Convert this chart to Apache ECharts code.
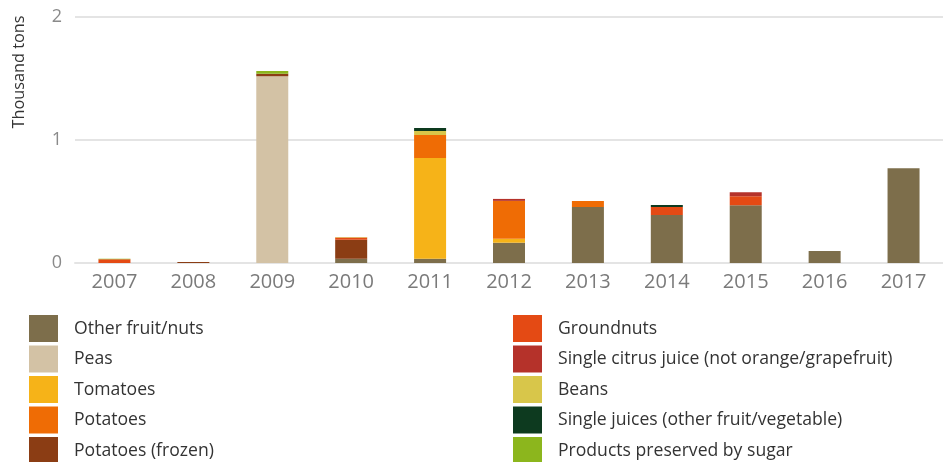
<!DOCTYPE html>
<html>
<head>
<meta charset="utf-8">
<script src="https://cdn.jsdelivr.net/npm/echarts@6/dist/echarts.min.js"></script>
<style>html,body{margin:0;padding:0;background:#fff;}#c{width:943px;height:462px;}</style>
</head>
<body>
<div id="c"></div>
<script>
var years = ['2007','2008','2009','2010','2011','2012','2013','2014','2015','2016','2017'];
var seriesNames = ['Other fruit/nuts','Peas','Tomatoes','Potatoes','Potatoes (frozen)','Groundnuts','Single citrus juice (not orange/grapefruit)','Beans','Single juices (other fruit/vegetable)','Products preserved by sugar'];
var colors = ['#7d6e4b','#d3c2a5','#f6b318','#ef6c05','#8b3d14','#e44a14','#b5322a','#d8c64a','#0d3a1f','#8cb61d'];
var otherFruitNuts   = [0, 0, 0, 0.035, 0.035, 0.165, 0.455, 0.39, 0.47, 0.097, 0.77];
var peas             = [0, 0, 1.519, 0, 0, 0, 0, 0, 0, 0, 0];
var tomatoes         = [0, 0, 0, 0, 0.819, 0.032, 0, 0, 0, 0, 0];
var potatoes         = [0, 0, 0, 0, 0.187, 0.308, 0.049, 0, 0, 0, 0];
var potatoesFrozen   = [0, 0.008, 0.019, 0.154, 0, 0, 0, 0, 0, 0, 0];
var groundnuts       = [0.03, 0, 0, 0.018, 0, 0, 0, 0.065, 0.073, 0, 0];
var citrusJuice      = [0, 0, 0, 0, 0, 0.016, 0, 0, 0.032, 0, 0];
var beans            = [0, 0, 0, 0.005, 0.032, 0, 0, 0, 0, 0, 0];
var singleJuices     = [0, 0, 0, 0, 0.024, 0, 0, 0.016, 0, 0, 0];
var preservedSugar   = [0.005, 0, 0.022, 0, 0, 0, 0, 0, 0, 0, 0];
var yTicks = ['0','1','2'];
var allData = [otherFruitNuts, peas, tomatoes, potatoes, potatoesFrozen, groundnuts, citrusJuice, beans, singleJuices, preservedSugar];

var chart = echarts.init(document.getElementById('c'), null, {renderer:'canvas'});
var series = seriesNames.map(function(n, i){
  return {name: n, type: 'bar', stack: 'total', barWidth: 32, data: allData[i],
    itemStyle: {color: colors[i]}, emphasis: {disabled: true}};
});
var legendText = {fontFamily: 'Open Sans', fontSize: 17.6, color: '#333', padding: [0,0,0,11]};
chart.setOption({
  animation: false,
  color: colors,
  grid: {left: 75, top: 17, width: 871, height: 246, containLabel: false},
  graphic: [{type: 'text', rotation: Math.PI/2, x: 19, y: 72,
    style: {text: 'Thousand tons', fontFamily: 'Open Sans', fontSize: 16.3, fill: '#333', textAlign: 'center', textVerticalAlign: 'middle'}}],
  legend: [
    {data: seriesNames.slice(0,5), orient: 'vertical', left: 29, top: 315, height: 160, padding: 0, itemWidth: 29, itemHeight: 27, itemGap: 3.5, icon: 'rect', textStyle: legendText, selectedMode: false},
    {data: seriesNames.slice(5), orient: 'vertical', left: 513, top: 315, height: 160, padding: 0, itemWidth: 29, itemHeight: 27, itemGap: 3.5, icon: 'rect', textStyle: legendText, selectedMode: false}
  ],
  xAxis: {type: 'category', data: years,
    axisLine: {lineStyle: {color: '#e4e4e4', width: 2}},
    axisTick: {inside: true, length: 6, lineStyle: {color: '#e4e4e4', width: 2}},
    axisLabel: {fontFamily: 'Open Sans', fontSize: 20, color: '#7a7a7a', margin: 9}},
  yAxis: {type: 'value', min: 0, max: 2, interval: 1,
    axisLine: {show: false}, axisTick: {show: false},
    splitLine: {lineStyle: {color: '#e4e4e4', width: 2}},
    axisLabel: {fontFamily: 'Open Sans', fontSize: 18, color: '#8a8a8a', margin: 13,
      formatter: function(v){ return yTicks[Math.round(v)]; }}},
  series: series
});
</script>
</body>
</html>
